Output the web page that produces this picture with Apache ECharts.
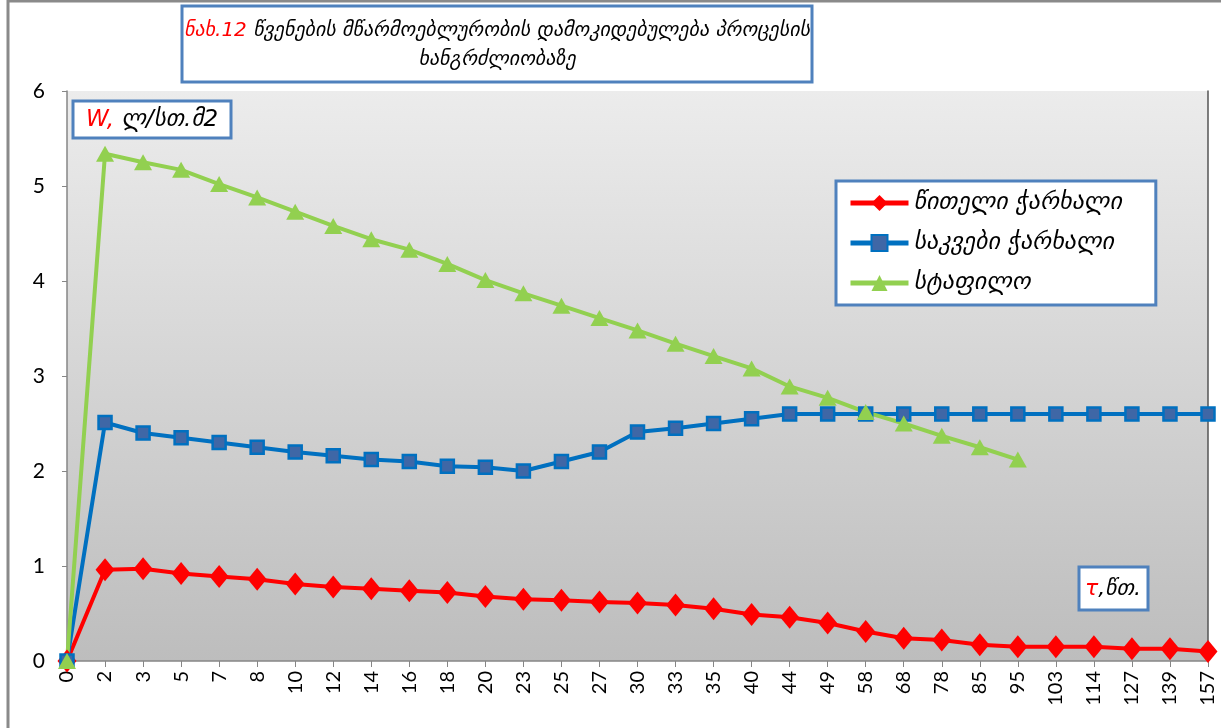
<!DOCTYPE html>
<html>
<head>
<meta charset="utf-8">
<script src="https://cdn.jsdelivr.net/npm/echarts@6/dist/echarts.min.js"></script>
<style>
html,body{margin:0;padding:0;background:#fff;}
#chart{width:1221px;height:728px;}
</style>
</head>
<body>
<div id="chart"></div>
<script>
const categories = ['0','2','3','5','7','8','10','12','14','16','18','20','23','25','27','30','33','35','40','44','49','58','68','78','85','95','103','114','127','139','157'];
const redBeet = [0, 0.96, 0.97, 0.92, 0.89, 0.86, 0.81, 0.78, 0.76, 0.74, 0.72, 0.68, 0.65, 0.64, 0.62, 0.61, 0.59, 0.55, 0.49, 0.46, 0.40, 0.31, 0.24, 0.22, 0.17, 0.15, 0.15, 0.15, 0.13, 0.13, 0.10];
const fodderBeet = [0, 2.51, 2.40, 2.35, 2.30, 2.25, 2.20, 2.16, 2.12, 2.10, 2.05, 2.04, 2.00, 2.10, 2.20, 2.41, 2.45, 2.50, 2.55, 2.60, 2.60, 2.60, 2.60, 2.60, 2.60, 2.60, 2.60, 2.60, 2.60, 2.60, 2.60];
const carrot = [0, 5.34, 5.25, 5.17, 5.02, 4.88, 4.73, 4.58, 4.44, 4.33, 4.18, 4.01, 3.87, 3.74, 3.61, 3.48, 3.34, 3.21, 3.08, 2.89, 2.77, 2.62, 2.50, 2.37, 2.25, 2.12, null, null, null, null, null];
const seriesNames = ['წითელი ჭარხალი', 'საკვები ჭარხალი', 'სტაფილო'];
const titleLine1 = ['ნახ.12', ' წვენების მწარმოებლურობის დამოკიდებულება პროცესის'];
const titleLine2 = 'ხანგრძლიობაზე';
const yName = ['W,', ' ლ/სთ.მ2'];
const xName = ['τ', ',წთ.'];

const geoFont = '"DejaVu Sans"';
const chart = echarts.init(document.getElementById('chart'));
function box(){ return {fill:'#fff', stroke:'#4f81bd', lineWidth:3}; }

chart.setOption({
  animation:false,
  backgroundColor:'#fff',
  grid:{left:67, right:13, top:91, bottom:67, show:true, borderWidth:0,
    backgroundColor:{type:'linear', x:0, y:0, x2:0, y2:1,
      colorStops:[{offset:0, color:'#ececec'},{offset:1, color:'#bdbdbd'}]}},
  legend:{
    orient:'vertical', left:836, top:181,
    backgroundColor:'#fff', borderColor:'#4f81bd', borderWidth:3,
    padding:[10, 34, 10, 12], itemGap:16, itemWidth:58, itemHeight:20,
    lineStyle:{width:5},
    textStyle:{fontFamily:geoFont, fontStyle:'italic', fontSize:24, color:'#000'},
    data:seriesNames
  },
  xAxis:{
    type:'category', data:categories, boundaryGap:false,
    axisLine:{lineStyle:{color:'#868686', width:1.5}},
    axisTick:{show:true, length:6, lineStyle:{color:'#868686'}},
    axisLabel:{rotate:90, fontSize:20, color:'#000', fontFamily:'Lato', margin:10, interval:0}
  },
  yAxis:[{
    type:'value', min:0, max:6, interval:1,
    axisLine:{show:true, lineStyle:{color:'#868686', width:1.5}},
    axisTick:{show:true, length:5, lineStyle:{color:'#868686'}},
    splitLine:{show:false},
    axisLabel:{fontSize:21, color:'#000', fontFamily:'Lato', margin:22}
  },{
    type:'value', min:0, max:6, interval:1, position:'right',
    axisLine:{show:true, lineStyle:{color:'#555', width:1.5}},
    axisTick:{show:false}, axisLabel:{show:false}, splitLine:{show:false}
  }],
  series:[
    {name:seriesNames[0], type:'line', data:redBeet, symbol:'diamond', symbolSize:[19,23],
      lineStyle:{color:'#ff0000', width:4}, itemStyle:{color:'#ff0000'}},
    {name:seriesNames[1], type:'line', data:fodderBeet, symbol:'rect', symbolSize:13,
      lineStyle:{color:'#0070c0', width:4}, itemStyle:{color:'#3f67a6', borderColor:'#0070c0', borderWidth:2.5}},
    {name:seriesNames[2], type:'line', data:carrot, symbol:'triangle', symbolSize:[18,16],
      lineStyle:{color:'#92d050', width:4}, itemStyle:{color:'#92d050'}}
  ],
  graphic:{elements:[
    {type:'rect', id:'outer', silent:true, z:100, shape:{x:8, y:1, width:1240, height:760}, style:{fill:'none', stroke:'#8a8a8a', lineWidth:3}},
    {type:'rect', id:'tbox', z:100, shape:{x:182, y:6, width:630, height:76}, style:box()},
    {type:'text', id:'t1', x:497, y:31, z:101, style:{
      text:'{r|'+titleLine1[0]+'}{k|'+titleLine1[1]+'}', align:'center', verticalAlign:'middle',
      rich:{r:{fill:'#ff0000', fontSize:20, fontStyle:'italic', fontFamily:geoFont},
            k:{fill:'#000', fontSize:20, fontStyle:'italic', fontFamily:geoFont}}}},
    {type:'text', id:'t2', x:497, y:60, z:101, style:{
      text:titleLine2, align:'center', verticalAlign:'middle',
      fill:'#000', fontSize:20, fontStyle:'italic', fontFamily:geoFont}},
    {type:'rect', id:'ybox', z:100, shape:{x:73, y:101, width:158, height:37}, style:box()},
    {type:'text', id:'yt', x:152, y:120, z:101, style:{
      text:'{r|'+yName[0]+'}{k|'+yName[1]+'}', align:'center', verticalAlign:'middle',
      rich:{r:{fill:'#ff0000', fontSize:23, fontStyle:'italic', fontFamily:geoFont},
            k:{fill:'#000', fontSize:23, fontStyle:'italic', fontFamily:geoFont}}}},
    {type:'rect', id:'xbox', z:100, shape:{x:1079, y:567, width:69, height:43}, style:box()},
    {type:'text', id:'xt', x:1113, y:589, z:101, style:{
      text:'{r|'+xName[0]+'}{k|'+xName[1]+'}', align:'center', verticalAlign:'middle',
      rich:{r:{fill:'#ff0000', fontSize:22, fontStyle:'italic', fontFamily:geoFont},
            k:{fill:'#000', fontSize:22, fontStyle:'italic', fontFamily:geoFont}}}}
  ]}
});
</script>
</body>
</html>
